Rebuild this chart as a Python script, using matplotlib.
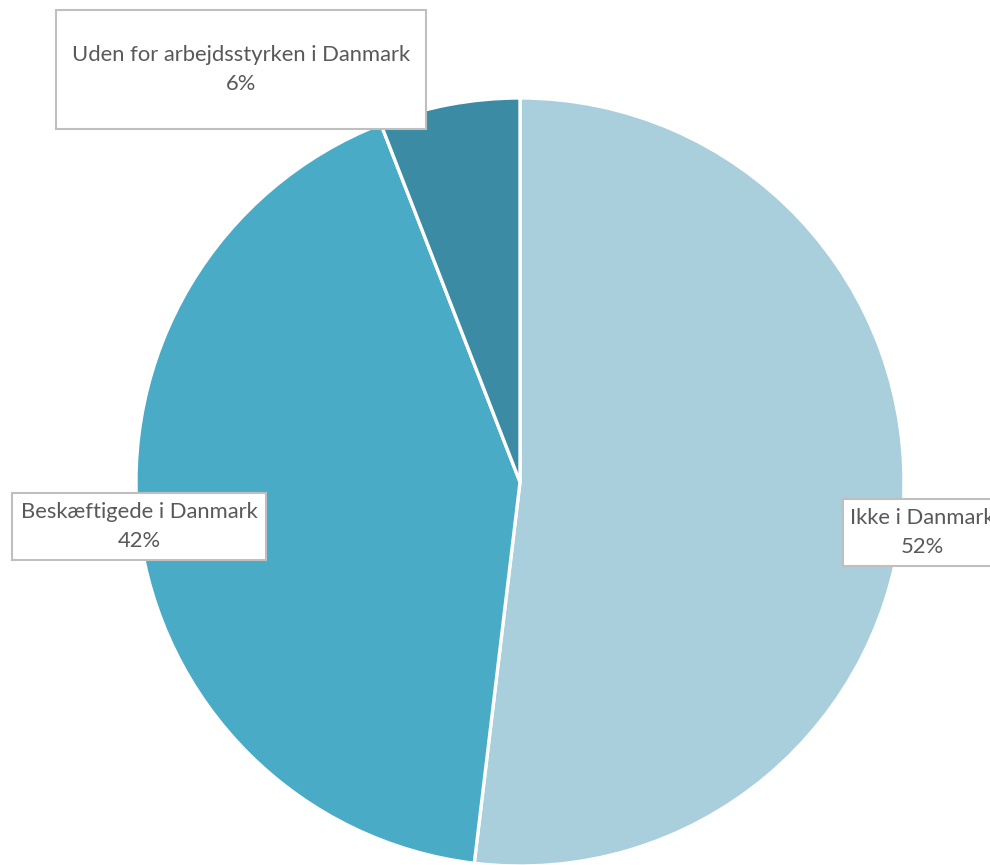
import matplotlib.pyplot as plt
from matplotlib.patches import Rectangle

# shares, clockwise from 12 o'clock
labels = ['Ikke i Danmark', 'Beskæftigede i Danmark', 'Uden for arbejdsstyrken i Danmark']
values = [51.9, 42.2, 5.9]
colors = ['#A9CEDC', '#4AABC6', '#3A8BA3']

W, H = 990, 865
fig = plt.figure(figsize=(W / 100, H / 100), dpi=100)

# pie centre and radius in pixels
cx, cy, r = 520, 482, 384
ax = fig.add_axes([(cx - r) / W, (H - cy - r) / H, 2 * r / W, 2 * r / H])
ax.pie(values, colors=colors, startangle=90, counterclock=False, radius=1,
       wedgeprops=dict(edgecolor='white', linewidth=2.4))
ax.set_xlim(-1, 1)
ax.set_ylim(-1, 1)
ax.set_axis_off()

# label boxes: (x0, y0, x1, y1) in pixels from top-left
boxes = [(843, 499, 1060, 566), (12, 493, 266, 560), (56, 10, 426, 129)]
for lab, val, (x0, y0, x1, y1) in zip(labels, values, boxes):
    fig.patches.append(Rectangle((x0 / W, 1 - y1 / H), (x1 - x0) / W, (y1 - y0) / H,
                                 transform=fig.transFigure, facecolor='white',
                                 edgecolor='#BFBFBF', linewidth=1.5, zorder=3))
    tx = (x0 + x1) / 2 if x1 <= W else 922
    ty = (y0 + y1) / 2
    fig.text(tx / W, 1 - ty / H, f'{lab}\n{round(val):d}%', ha='center', va='center',
             fontsize=15.8, family='Lato', color='#595959', linespacing=1.6, zorder=4)

fig.savefig('out.png', dpi=100)
